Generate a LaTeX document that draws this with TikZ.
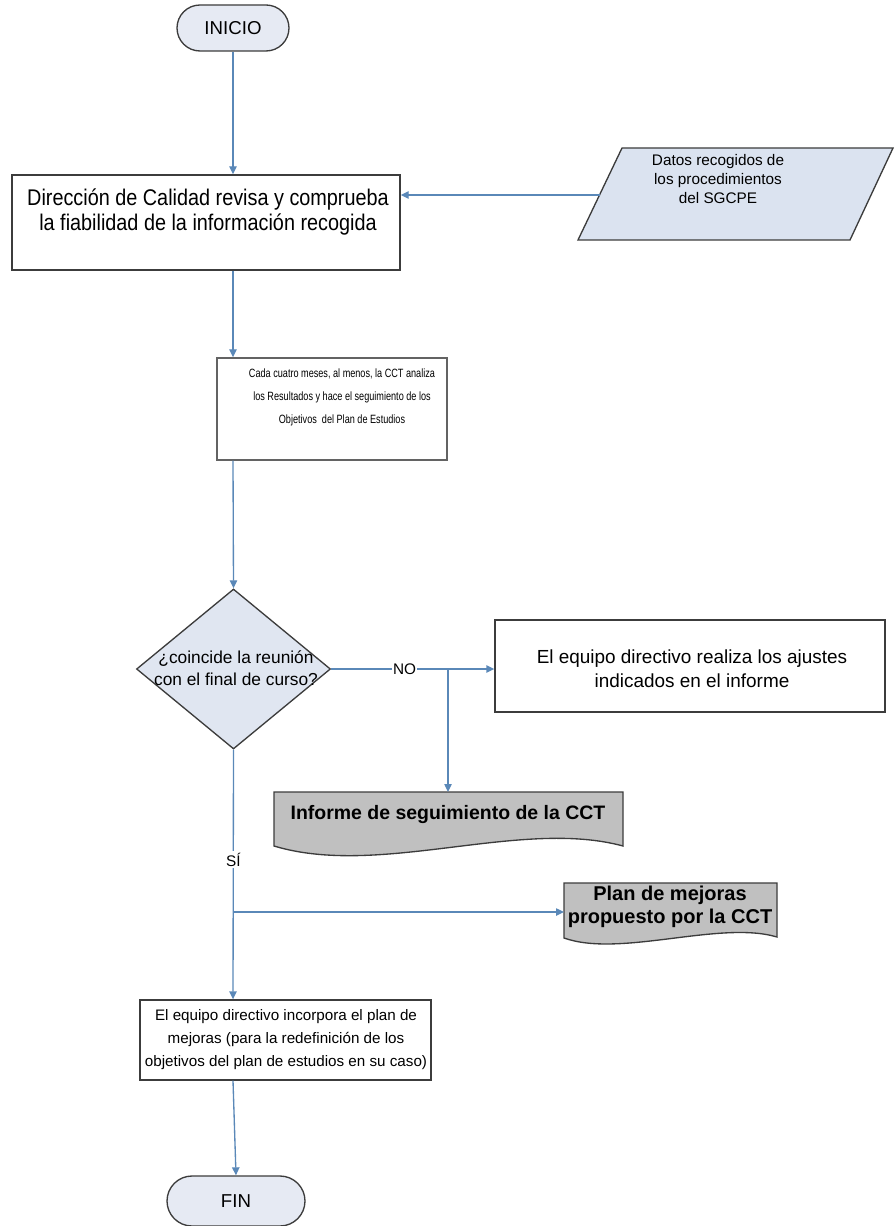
\documentclass[tikz,border=0pt]{standalone}
\usepackage{fontspec}
\setmainfont{Liberation Sans}
\newfontfamily\narrowfont[FakeStretch=0.875]{Liberation Sans}
\newfontfamily\narrowerfont[FakeStretch=0.76]{Liberation Sans}
\usetikzlibrary{shapes.geometric,shapes.misc,arrows.meta}
\definecolor{linecol}{RGB}{90,136,184}
\definecolor{bordercol}{RGB}{60,60,60}
\definecolor{termfill}{RGB}{230,234,243}
\definecolor{diafill}{RGB}{224,230,241}
\definecolor{datafill}{RGB}{219,227,240}
\definecolor{docfill}{RGB}{192,192,192}
\newdimen\pxu
\pxu=0.75pt
\begin{document}
\begin{tikzpicture}[x=0.75pt,y=-0.75pt,
  flow/.style={draw=linecol, line width=1pt, -{Triangle[length=6pt,width=5.5pt]}},
  boxshape/.style={draw=bordercol, line width=1pt, fill=white, inner sep=0pt},
  term/.style={rounded rectangle, draw=bordercol, line width=1pt, fill=termfill, inner sep=0pt, font=\fontsize{14}{16}\selectfont},
  docshape/.style={draw=bordercol, line width=1pt, fill=docfill},
  txt/.style={align=center, inner sep=0pt},
  lbl/.style={fill=white, inner sep=1pt, font=\fontsize{11.5}{13}\selectfont}
]
\useasboundingbox (0,0) rectangle (895,1226);
\coordinate (axis) at (233,0);

% start
\node[term, minimum width=112*\pxu, minimum height=46*\pxu] (ini) at (233,28) {INICIO};

% box 1
\node[boxshape, minimum width=388*\pxu, minimum height=95*\pxu] (b1) at (206,222.5) {};
\node[txt, font=\narrowfont\fontsize{17}{18.75}\selectfont] (t1) at (208,212)
  {Dirección de Calidad revisa y comprueba\\la fiabilidad de la información recogida};

% data parallelogram
\draw[draw=bordercol, line width=1pt, fill=datafill] (622,148) -- (893,148) -- (850,240) -- (578,240) -- cycle;
\coordinate (dleft) at (600,195);
\node[txt, font=\fontsize{11.5}{14}\selectfont] (tdata) at (718,179)
  {Datos recogidos de\\los procedimientos\\del SGCPE};

% box 2
\node[boxshape, draw=bordercol!80, minimum width=230*\pxu, minimum height=102*\pxu] (b2) at (332,409) {};
\node[txt, font=\narrowerfont\fontsize{9}{17.25}\selectfont] (t2) at (342,397)
  {Cada cuatro meses, al menos, la CCT analiza\\los Resultados y hace el seguimiento de los\\Objetivos\ \ del Plan de Estudios};

% decision
\node[diamond, draw=bordercol, line width=1pt, fill=diafill, inner sep=0pt,
  minimum width=194*\pxu, minimum height=160*\pxu] (dia) at (233.5,669) {};
\node[txt, font=\fontsize{13}{16.5}\selectfont] (tdia) at (236,668)
  {¿coincide la reunión\\con el final de curso?};

% box 3
\node[boxshape, minimum width=390*\pxu, minimum height=92*\pxu] (b3) at (690,666) {};
\node[txt, font=\fontsize{14.2}{18}\selectfont] (t3) at (692,669)
  {El equipo directivo realiza los ajustes\\indicados en el informe};

% informe document
\draw[docshape] (274,792) -- (623,792) -- (623,846) .. controls (520,818) and (380,878) .. (274,846) -- cycle;
\coordinate (inftop) at (448,792);
\node[txt, font=\bfseries\fontsize{14.6}{16}\selectfont] (tinf) at (448,815) {Informe de seguimiento de la CCT};

% plan document
\draw[docshape] (564,883) -- (777,883) -- (777,937) .. controls (720,920) and (620,958) .. (564,938) -- cycle;
\coordinate (planleft) at (564,912);
\node[txt, font=\bfseries\fontsize{15}{17.25}\selectfont] (tplan) at (670,907)
  {Plan de mejoras\\propuesto por la CCT};

% box 4
\node[boxshape, minimum width=291*\pxu, minimum height=80*\pxu] (b4) at (285.5,1040) {};
\node[txt, font=\fontsize{11.4}{17.25}\selectfont] (t4) at (286,1040)
  {El equipo directivo incorpora el plan de\\mejoras (para la redefinición de los\\objetivos del plan de estudios en su caso)};

% end
\node[term, minimum width=138*\pxu, minimum height=50*\pxu] (fin) at (236,1201) {FIN};

% connectors
\draw[flow] (ini.south) -- (axis |- b1.north);
\draw[flow] (dleft) -- (dleft -| b1.east);
\draw[flow] (axis |- b1.south) -- (axis |- b2.north);
\draw[flow] (axis |- b2.south) -- (dia.north);
\draw[flow] (dia.east) -- (b3.west |- dia.east)
  node[pos=0.45, lbl] (lno) {NO};
\coordinate (br) at (448,669);
\draw[flow] (br) -- (br |- inftop);
\draw[flow] (dia.south) -- (axis |- b4.north)
  node[pos=0.44, lbl] (lsi) {SÍ};
\coordinate (br2) at (233,912);
\draw[flow] (br2) -- (planleft);
\draw[flow] (axis |- b4.south) -- (fin.north);
\end{tikzpicture}
\end{document}
